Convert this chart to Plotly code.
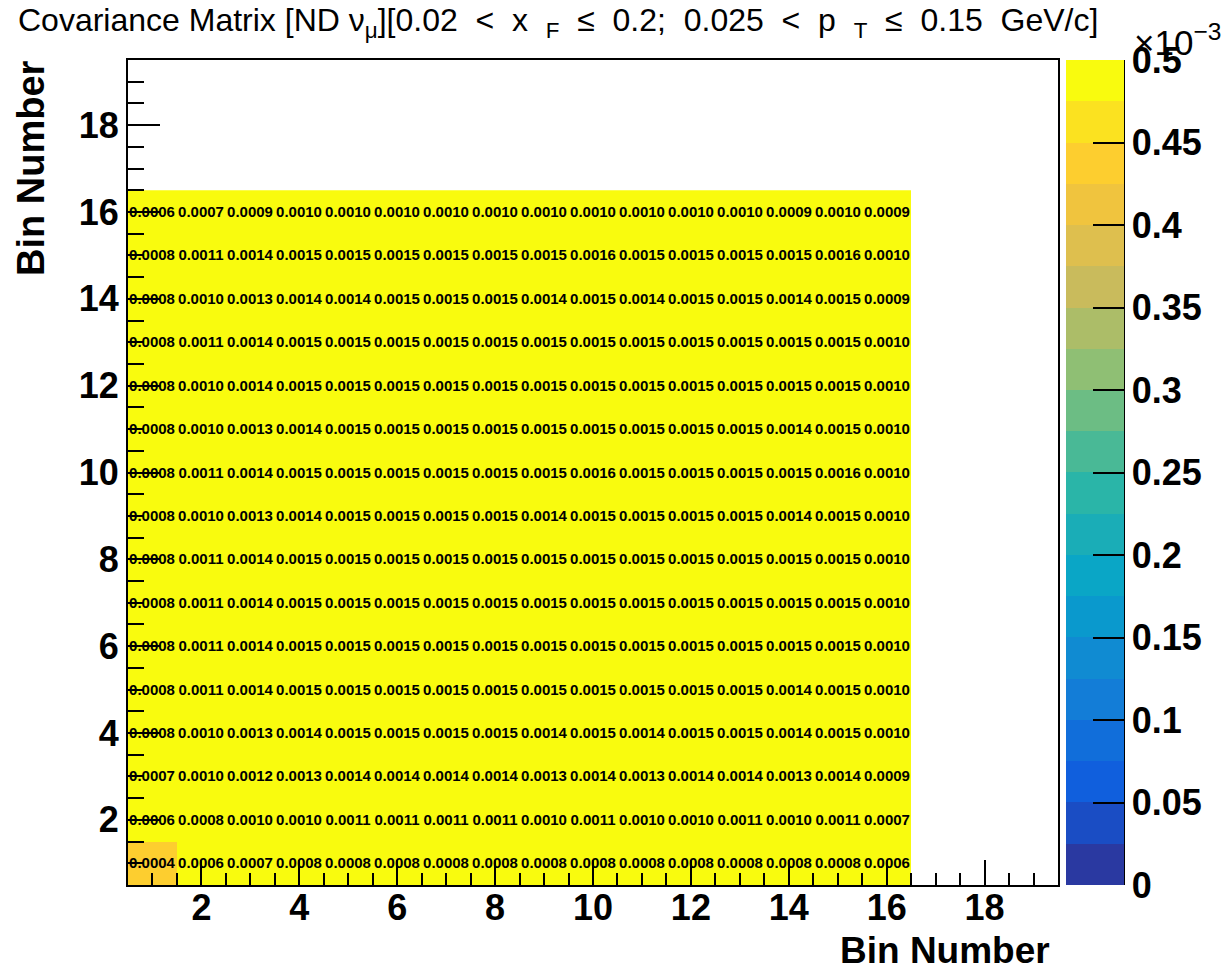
import plotly.graph_objects as go
import numpy as np

# Bin numbers
bins = list(range(1, 17))

# Covariance values (units of 1e-4), rows = y bin 1..16, cols = x bin 1..16
row01 = [4.4, 6, 7, 8, 8, 8, 8, 8, 8, 8, 8, 8, 8, 8, 8, 6]
row02 = [6, 8, 10, 10, 11, 11, 11, 11, 10, 11, 10, 10, 11, 10, 11, 7]
row03 = [7, 10, 12, 13, 14, 14, 14, 14, 13, 14, 13, 14, 14, 13, 14, 9]
row04 = [8, 10, 13, 14, 15, 15, 15, 15, 14, 15, 14, 15, 15, 14, 15, 10]
row05 = [8, 11, 14, 15, 15, 15, 15, 15, 15, 15, 15, 15, 15, 14, 15, 10]
row06 = [8, 11, 14, 15, 15, 15, 15, 15, 15, 15, 15, 15, 15, 15, 15, 10]
row07 = [8, 11, 14, 15, 15, 15, 15, 15, 15, 15, 15, 15, 15, 15, 15, 10]
row08 = [8, 11, 14, 15, 15, 15, 15, 15, 15, 15, 15, 15, 15, 15, 15, 10]
row09 = [8, 10, 13, 14, 15, 15, 15, 15, 14, 15, 15, 15, 15, 14, 15, 10]
row10 = [8, 11, 14, 15, 15, 15, 15, 15, 15, 16, 15, 15, 15, 15, 16, 10]
row11 = [8, 10, 13, 14, 15, 15, 15, 15, 15, 15, 15, 15, 15, 14, 15, 10]
row12 = [8, 10, 14, 15, 15, 15, 15, 15, 15, 15, 15, 15, 15, 15, 15, 10]
row13 = [8, 11, 14, 15, 15, 15, 15, 15, 15, 15, 15, 15, 15, 15, 15, 10]
row14 = [8, 10, 13, 14, 14, 15, 15, 15, 14, 15, 14, 15, 15, 14, 15, 9]
row15 = [8, 11, 14, 15, 15, 15, 15, 15, 15, 16, 15, 15, 15, 15, 16, 10]
row16 = [6, 7, 9, 10, 10, 10, 10, 10, 10, 10, 10, 10, 10, 9, 10, 9]

rows = [row01, row02, row03, row04, row05, row06, row07, row08,
        row09, row10, row11, row12, row13, row14, row15, row16]
z = np.array(rows) * 1e-4

# Colorbar ticks (units of 1e-3)
cb_ticks = [0, 0.05, 0.1, 0.15, 0.2, 0.25, 0.3, 0.35, 0.4, 0.45, 0.5]
cb_ticktext = ["0", "0.05", "0.1", "0.15", "0.2", "0.25", "0.3", "0.35", "0.4", "0.45", "0.5"]
axis_ticks = [2, 4, 6, 8, 10, 12, 14, 16, 18]

# ROOT kBird palette, discretised into 20 contour bands
stops = [0.0, 0.125, 0.25, 0.375, 0.5, 0.625, 0.75, 0.875, 1.0]
red = [0.2082, 0.0592, 0.0780, 0.0232, 0.1802, 0.5301, 0.8186, 0.9956, 0.9764]
green = [0.1664, 0.3599, 0.5041, 0.6419, 0.7178, 0.7492, 0.7328, 0.7862, 0.9832]
blue = [0.5293, 0.8684, 0.8385, 0.7914, 0.6425, 0.4662, 0.3499, 0.1968, 0.0539]
nb = 20
colorscale = []
for i in range(nb):
    f = min(1.0, (i + 0.75) / nb) if i < nb - 1 else 1.0
    r = np.interp(f, stops, red) * 255
    g = np.interp(f, stops, green) * 255
    b = np.interp(f, stops, blue) * 255
    c = f"rgb({int(round(r))},{int(round(g))},{int(round(b))})"
    colorscale.append([i / nb, c])
    colorscale.append([(i + 1) / nb, c])

FONT = "Liberation Sans"
PW, PH, L, T = 930, 825, 128, 60


def px(xp):
    return (xp - L) / PW


def py(yp):
    return 1 - (yp - T) / PH


fig = go.Figure()
fig.add_trace(go.Heatmap(
    x=bins, y=bins, z=z,
    zmin=0, zmax=0.0005,
    colorscale=colorscale,
    text=[[f"{v:.4f}" for v in r] for r in z],
    texttemplate="%{text}",
    textfont=dict(family=FONT, size=15, color="black", weight="bold"),
    xgap=0, ygap=0,
    hoverinfo="skip",
    colorbar=dict(
        x=px(1066), xanchor="left", xpad=0,
        y=0.5, yanchor="middle", len=1.0, lenmode="fraction", ypad=0,
        thickness=58, thicknessmode="pixels",
        outlinewidth=0,
        tickmode="array",
        tickvals=[t * 1e-3 for t in cb_ticks],
        ticktext=cb_ticktext,
        ticks="inside", ticklen=31, tickwidth=2, tickcolor="black",
        tickfont=dict(family=FONT, size=36, color="black", weight="bold"),
    ),
))

axis_common = dict(
    range=[0.5, 19.5],
    tickmode="array", tickvals=axis_ticks,
    ticks="inside", tickwidth=2, tickcolor="black",
    showline=True, linecolor="black", linewidth=2, mirror=True,
    showgrid=False, zeroline=False,
    tickfont=dict(family=FONT, size=36, color="black", weight="bold"),
)
fig.update_xaxes(**axis_common, ticklen=25, ticklabelstandoff=-10,
                 minor=dict(ticks="inside", ticklen=12, tickwidth=2, tickcolor="black",
                            tick0=0, dtick=0.5, showgrid=False))
fig.update_yaxes(**axis_common, ticklen=32,
                 minor=dict(ticks="inside", ticklen=16, tickwidth=2, tickcolor="black",
                            tick0=0, dtick=0.5, showgrid=False))

# right edge line of the palette axis
fig.add_shape(type="line", xref="paper", yref="paper",
              x0=px(1124), x1=px(1124), y0=0, y1=1,
              line=dict(color="black", width=2))

S = "&nbsp;&nbsp;"
title = ("Covariance Matrix [ND ν<sub>μ</sub>][0.02" + S + "<" + S + "x&nbsp;&nbsp;<sub>F</sub>" + S
         + "≤" + S + "0.2;" + S + "0.025" + S + "<" + S + "p&nbsp;&nbsp;<sub>T</sub>" + S
         + "≤" + S + "0.15" + S + "GeV/c]")
fig.add_annotation(
    text=title,
    xref="paper", yref="paper", x=px(16), y=py(0),
    xanchor="left", yanchor="top", showarrow=False,
    font=dict(family=FONT, size=32, color="black"))
fig.add_annotation(
    text="×10<sup>−3</sup>",
    xref="paper", yref="paper", x=px(1223), y=py(64),
    xanchor="right", yanchor="bottom", showarrow=False,
    font=dict(family=FONT, size=35, color="black"))
fig.add_annotation(
    text="<b>Bin Number</b>",
    xref="paper", yref="paper", x=px(1052), y=py(928),
    xanchor="right", yanchor="top", showarrow=False,
    font=dict(family=FONT, size=37, color="black"))
fig.add_annotation(
    text="<b>Bin Number</b>",
    xref="paper", yref="paper", x=px(8), y=py(58),
    xanchor="left", yanchor="top", textangle=-90, showarrow=False,
    font=dict(family=FONT, size=38, color="black"))

fig.update_layout(
    width=1224, height=970,
    margin=dict(l=128, r=166, t=60, b=85, autoexpand=False),
    paper_bgcolor="white", plot_bgcolor="white",
    showlegend=False,
)

fig.write_html("out.html")
